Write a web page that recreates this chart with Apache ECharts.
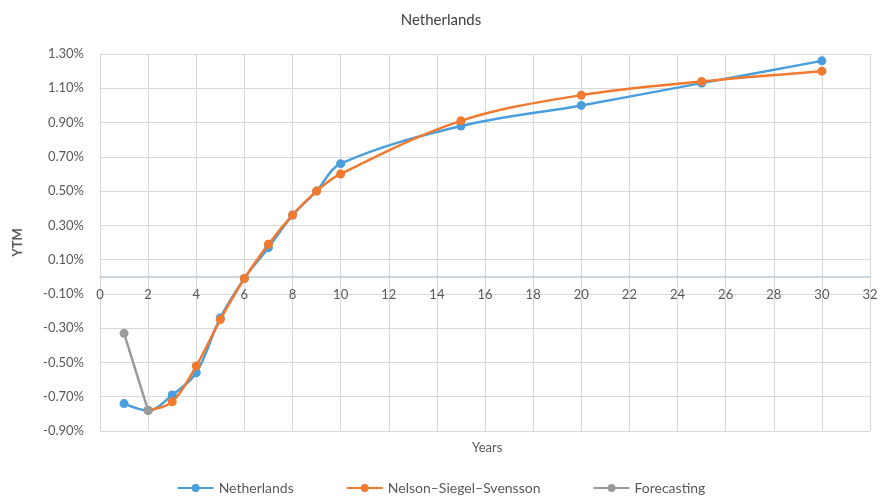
<!DOCTYPE html>
<html>
<head>
<meta charset="utf-8">
<script src="https://cdn.jsdelivr.net/npm/echarts@6/dist/echarts.min.js"></script>
<style>
  html, body { margin: 0; padding: 0; background: #fff; }
  #chart { width: 882px; height: 504px; }
</style>
</head>
<body>
<div id="chart"></div>
<script>
// yields in %, maturities in years
const netherlandsYears = [1, 2, 3, 4, 5, 6, 7, 8, 9, 10, 15, 20, 25, 30];
const netherlandsYtm = [-0.74, -0.78, -0.69, -0.56, -0.24, -0.01, 0.17, 0.36, 0.50, 0.66, 0.88, 1.00, 1.13, 1.26];

const nssYears = [2, 3, 4, 5, 6, 7, 8, 9, 10, 15, 20, 25, 30];
const nssYtm = [-0.78, -0.73, -0.52, -0.25, -0.01, 0.19, 0.36, 0.50, 0.60, 0.91, 1.06, 1.14, 1.20];

const forecastYears = [1, 2];
const forecastYtm = [-0.33, -0.78];

const FONT = "Lato, 'Open Sans', sans-serif";
const TXT = "#595959";

let pairs = (xs, ys) => xs.map((x, i) => [x, ys[i]]);

let lineSeries = (name, data, color, z) => ({
  name: name,
  type: "line",
  data: data,
  smooth: 0.35,
  symbol: "circle",
  symbolSize: 9,
  z: z,
  lineStyle: { color: color, width: 2.5 },
  itemStyle: { color: color }
});

const chart = echarts.init(document.getElementById("chart"));
chart.setOption({
  animation: false,
  textStyle: { fontFamily: FONT },
  title: [
    { text: "Netherlands", left: "center", top: 8,
      textStyle: { fontSize: 15, fontWeight: "normal", color: "#404040", fontFamily: FONT } },
    { text: "Years", left: 467, top: 436,
      textStyle: { fontSize: 13, fontWeight: "normal", color: TXT, fontFamily: FONT } }
  ],
  grid: { left: 100, right: 12, top: 54, bottom: 73 },
  legend: {
    bottom: 4,
    left: "center",
    itemWidth: 36,
    itemHeight: 10,
    itemGap: 52,
    textStyle: { fontSize: 14, color: TXT, fontFamily: FONT },
    data: ["Netherlands", "Nelson\u2013Siegel\u2013Svensson", "Forecasting"]
  },
  xAxis: {
    type: "value",
    min: 0,
    max: 32,
    interval: 2,
    position: "bottom",
    offset: -154,
    axisLine: { onZero: false, lineStyle: { color: "#b8cad6", width: 1.5 } },
    axisTick: { show: false },
    axisLabel: { color: TXT, fontSize: 13, margin: 11 },
    splitLine: { show: true, lineStyle: { color: "#d9d9d9", width: 1.2 } }
  },
  yAxis: {
    type: "value",
    min: -0.9,
    max: 1.3,
    interval: 0.2,
    name: "YTM",
    nameLocation: "middle",
    nameGap: 76,
    nameTextStyle: { color: TXT, fontSize: 13, fontWeight: "bold" },
    axisLine: { show: false },
    axisTick: { show: false },
    axisLabel: { color: TXT, fontSize: 13, margin: 16, formatter: v => v.toFixed(2) + "%" },
    splitLine: { show: true, lineStyle: { color: "#d9d9d9", width: 1.2 } }
  },
  series: [
    lineSeries("Netherlands", pairs(netherlandsYears, netherlandsYtm), "#4a9edb", 3),
    lineSeries("Nelson\u2013Siegel\u2013Svensson", pairs(nssYears, nssYtm), "#f07a30", 4),
    lineSeries("Forecasting", pairs(forecastYears, forecastYtm), "#9b9b9b", 5)
  ]
});
</script>
</body>
</html>
